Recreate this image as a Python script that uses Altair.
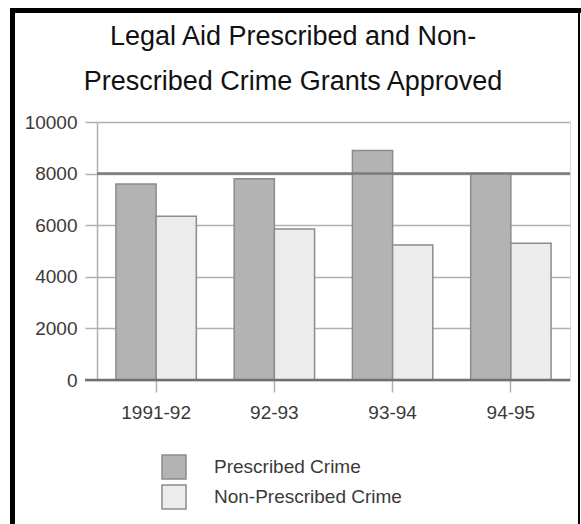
import altair as alt
import pandas as pd

years = ["1991-92", "92-93", "93-94", "94-95"]
prescribed = [7600, 7800, 8900, 8000]
non_prescribed = [6350, 5850, 5230, 5300]
series = ["Prescribed Crime", "Non-Prescribed Crime"]
title_lines = ["Legal Aid Prescribed and Non-", "Prescribed Crime Grants Approved"]
ref_line = [8000]

rows = []
for i, y in enumerate(years):
    rows.append({"year": y, "series": series[0], "value": prescribed[i]})
    rows.append({"year": y, "series": series[1], "value": non_prescribed[i]})
df = pd.DataFrame(rows)

FONT = "Liberation Sans"
LBL = "#3a3a3a"

bars = alt.Chart(df).mark_bar(stroke="#8c8c8c", strokeWidth=1.5).encode(
    x=alt.X("year:N", sort=years, title=None,
            scale=alt.Scale(paddingInner=0.32, paddingOuter=0.16),
            axis=alt.Axis(labelAngle=0, labelFontSize=19, labelFont=FONT, labelColor=LBL,
                          tickColor="#b0b0b0", tickSize=12, tickWidth=1.5, labelPadding=11,
                          domain=False, grid=False)),
    xOffset=alt.XOffset("series:N", sort=series),
    y=alt.Y("value:Q", title=None,
            scale=alt.Scale(domain=[0, 10000]),
            axis=alt.Axis(values=[0, 2000, 4000, 6000, 8000, 10000], format="d",
                          labelFontSize=19, labelFont=FONT, labelColor=LBL,
                          tickColor="#b0b0b0", tickSize=12, tickWidth=1.5, labelPadding=8,
                          domainColor="#b0b0b0", domainWidth=1.5,
                          grid=True, gridColor="#b0b0b0", gridWidth=1.5)),
    color=alt.Color("series:N", sort=series,
                    scale=alt.Scale(domain=series, range=["#b3b3b3", "#ececec"]),
                    legend=alt.Legend(title=None, orient="none", legendX=64, legendY=332,
                                      symbolType="square", symbolSize=576,
                                      symbolStrokeColor="#8c8c8c", symbolStrokeWidth=1.5,
                                      labelFontSize=19, labelFont=FONT, labelColor=LBL,
                                      labelLimit=400, labelOffset=27, rowPadding=0)),
)

ref = alt.Chart(pd.DataFrame({"v": ref_line})).mark_rule(color="#7a7a7a", strokeWidth=2.5).encode(
    y="v:Q"
)
base = alt.Chart(pd.DataFrame({"v": [0]})).mark_rule(color="#707070", strokeWidth=2.5).encode(
    y="v:Q", x=alt.value(-12), x2=alt.value(473)
)

one = pd.DataFrame({"f": [1]})
frame_left = alt.Chart(one).mark_rule(color="black", strokeWidth=5).encode(
    x=alt.value(-84.5), y=alt.value(-114), y2=alt.value(402))
frame_top = alt.Chart(one).mark_rule(color="black", strokeWidth=5).encode(
    y=alt.value(-111.5), x=alt.value(-87), x2=alt.value(484))
frame_right = alt.Chart(one).mark_rule(color="black", strokeWidth=2).encode(
    x=alt.value(482), y=alt.value(-114), y2=alt.value(402))

t1 = alt.Chart(one).mark_text(font=FONT, fontSize=27, color="#111", align="center",
                              baseline="alphabetic").encode(
    x=alt.value(196), y=alt.value(-77), text=alt.value(title_lines[0]))
t2 = alt.Chart(one).mark_text(font=FONT, fontSize=27, color="#111", align="center",
                              baseline="alphabetic").encode(
    x=alt.value(196), y=alt.value(-32), text=alt.value(title_lines[1]))

chart = alt.layer(bars, ref, base, frame_left, frame_top, frame_right, t1, t2).properties(
    width=473, height=258,
    padding={"left": 97, "top": 122, "right": 11, "bottom": 144},
    autosize=alt.AutoSizeParams(type="none"),
).configure_view(stroke=None).configure(background="white")

chart.save("out.html", embed_options={"renderer": "svg", "actions": False})
